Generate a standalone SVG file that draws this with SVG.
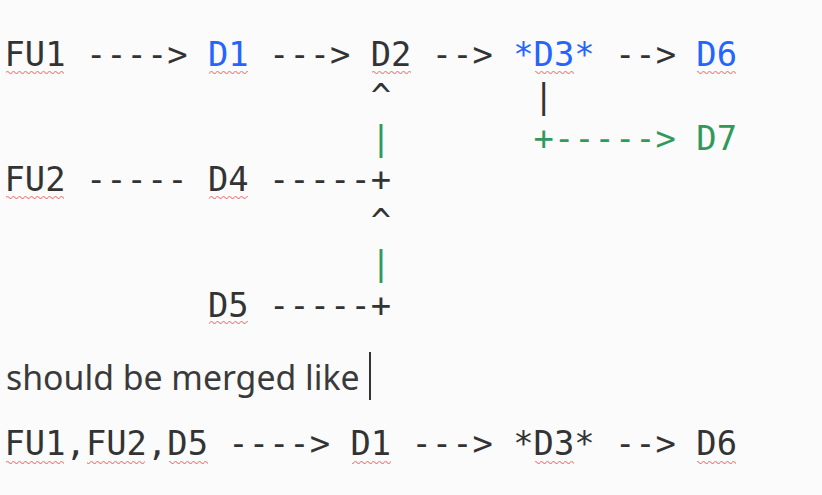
<svg xmlns="http://www.w3.org/2000/svg" width="822" height="495" viewBox="0 0 822 495">
<defs>
<pattern id="sq" patternUnits="userSpaceOnUse" width="6" height="5">
<path d="M0 2.5 Q1.5 0.5 3 2.5 T6 2.5" fill="none" stroke="#f08585" stroke-width="1.2"/>
</pattern>
<style>
.m{font-family:"DejaVu Sans Mono",monospace;font-size:33.8px;fill:#333333;white-space:pre}
.b{fill:#2465ff}
.g{fill:#2f9a5c}
.p{font-family:"Noto Sans","Open Sans",sans-serif;font-size:33.8px;fill:#3a3a3a}
</style>
</defs>
<rect width="822" height="495" fill="#fbfbfb"/>
<g id="squiggles" fill="url(#sq)">
<rect x="6" y="70" width="58" height="5"/>
<rect x="209" y="70" width="39" height="5"/>
<rect x="372" y="70" width="39" height="5"/>
<rect x="535" y="70" width="39" height="5"/>
<rect x="697" y="70" width="39" height="5"/>
<rect x="6" y="195" width="58" height="5"/>
<rect x="209" y="195" width="39" height="5"/>
<rect x="209" y="321" width="39" height="5"/>
<rect x="6" y="459" width="58" height="5"/>
<rect x="87" y="459" width="58" height="5"/>
<rect x="169" y="459" width="39" height="5"/>
<rect x="352" y="459" width="39" height="5"/>
<rect x="535" y="459" width="39" height="5"/>
<rect x="697" y="459" width="39" height="5"/>
</g>
<g id="diagram">
<text class="m" x="4.5" y="66" xml:space="preserve">FU1 ----&gt; <tspan class="b">D1</tspan> ---&gt; D2 --&gt; <tspan class="b">*D3*</tspan> --&gt; <tspan class="b">D6</tspan></text>
<text class="m" x="4.5" y="107.8" xml:space="preserve">                  ^       |</text>
<text class="m g" x="4.5" y="149.6" xml:space="preserve">                  |       +-----&gt; D7</text>
<text class="m" x="4.5" y="191.4" xml:space="preserve">FU2 ----- D4 -----+</text>
<text class="m" x="4.5" y="233.2" xml:space="preserve">                  ^</text>
<text class="m g" x="4.5" y="275" xml:space="preserve">                  |</text>
<text class="m" x="4.5" y="316.8" xml:space="preserve">          D5 -----+</text>
</g>
<g id="caption">
<text class="p" x="6" y="390">should be merged like</text>
<line x1="370" y1="352" x2="370" y2="400" stroke="#333" stroke-width="2"/>
</g>
<g id="result">
<text class="m" x="4.5" y="455" xml:space="preserve">FU1,FU2,D5 ----&gt; D1 ---&gt; *D3* --&gt; D6</text>
</g>
</svg>
